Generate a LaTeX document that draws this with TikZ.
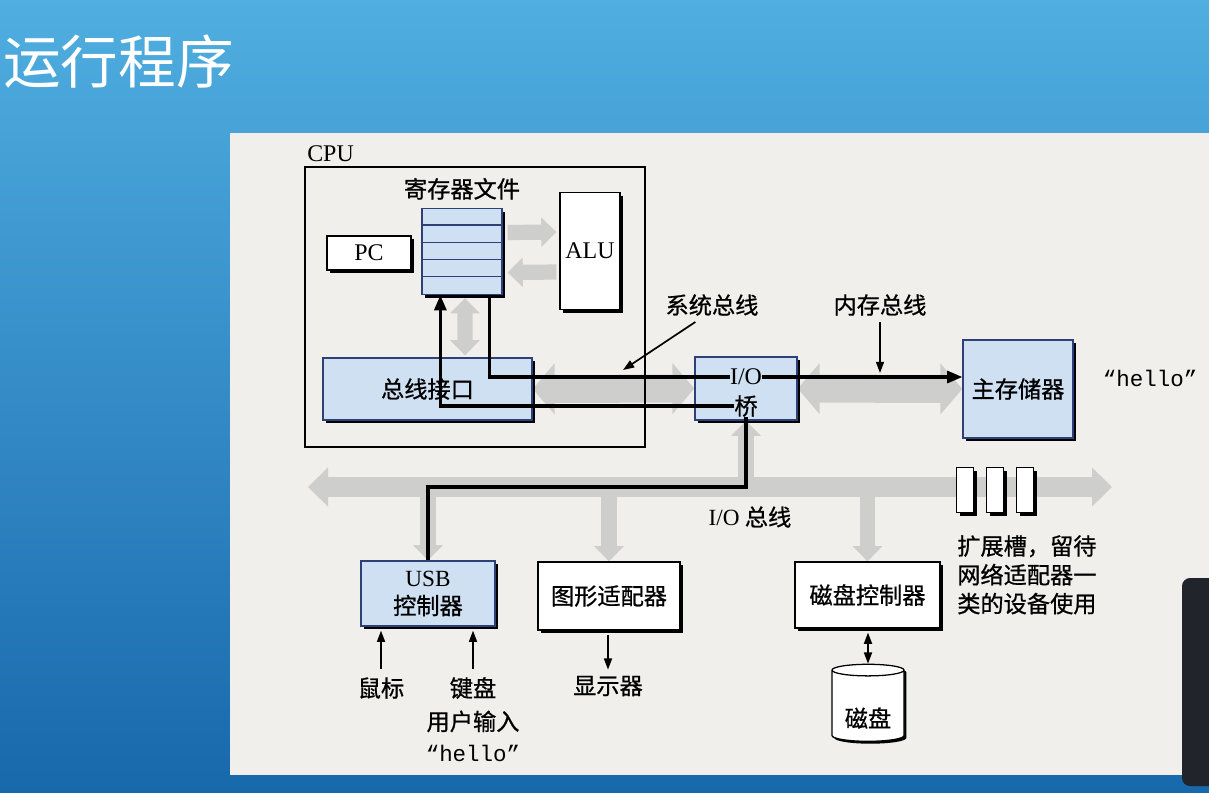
\documentclass[tikz,border=0pt]{standalone}
\usepackage{fontspec}
\setmainfont{Liberation Serif}
\setmonofont{Liberation Mono}
\newfontfamily\cjk[FakeBold=0.8]{Noto Sans CJK SC}
\newfontfamily\titlefont{Noto Sans CJK SC}
\usetikzlibrary{arrows.meta,positioning,calc,shadows,shapes.geometric}
\definecolor{slidetop}{RGB}{80,174,224}
\definecolor{slidebot}{RGB}{24,104,172}
\definecolor{paper}{RGB}{240,239,236}
\definecolor{boxblue}{RGB}{206,224,242}
\definecolor{edgeblue}{RGB}{45,65,120}
\definecolor{busgray}{RGB}{206,206,204}
\definecolor{widget}{RGB}{33,37,43}
\pgfdeclarelayer{bg}
\pgfdeclarelayer{mid}
\pgfsetlayers{bg,mid,main}

\begin{document}
\begin{tikzpicture}[x=0.025cm,y=-0.025cm,
  box/.style={draw=black,line width=0.9pt,fill=white,inner sep=0pt,
    drop shadow={shadow xshift=0.08cm,shadow yshift=-0.08cm,fill=black,opacity=1},
    font=\cjk\fontsize{16.5}{20}\selectfont},
  bluebox/.style={box,fill=boxblue,draw=edgeblue},
  lbl/.style={inner sep=0pt,font=\cjk\fontsize{16.5}{20}\selectfont},
  latin/.style={inner sep=0pt,font=\fontsize{17}{20}\selectfont},
  wire/.style={line width=2.2pt,>={Triangle[length=0.38cm,width=0.3cm]}},
  note/.style={line width=1.2pt,>={Triangle[length=0.28cm,width=0.2cm]}},
  fatbus/.style={draw=busgray,line width=0.7cm,>={Triangle[length=0.55cm,width=1.25cm]}},
  iobus/.style={draw=busgray,line width=0.5cm,>={Triangle[length=0.5cm,width=0.95cm]}},
  fatthin/.style={draw=busgray,line width=0.38cm,>={Triangle[length=0.38cm,width=0.72cm]}}]
\useasboundingbox (0,0) rectangle (1209,792);
\begin{pgfonlayer}{bg}
\shade[top color=slidetop,bottom color=slidebot] (0,0) rectangle (1209,792);
\fill[paper] (230,133) rectangle (1209,775);
\fill[widget,rounded corners=0.2cm] (1182,578) rectangle (1230,786);
\end{pgfonlayer}
\node[anchor=west,inner sep=0pt,text=white,font=\titlefont\fontsize{41}{46}\selectfont] (title) at (3,62) {运行程序};

\node[latin,anchor=south west] (cpulbl) at (307,162) {CPU};
\node[draw,line width=1.8pt,minimum width=8.5cm,minimum height=7cm,inner sep=0pt] (cpu) at (475,307) {};
\node[bluebox,minimum width=2cm,minimum height=2.15cm] (reg) at (462,251.5) {};
\foreach \r in {1,...,4}
  \draw[edgeblue,line width=0.9pt] ($(reg.north west)+(0,17.2*\r)$) -- ($(reg.north east)+(0,17.2*\r)$);
\node[lbl,above=0.2cm of reg] (reglbl) {寄存器文件};
\node[box,font=\fontsize{17}{20}\selectfont,minimum width=2.1cm,minimum height=0.85cm] (pc) at (369,253) {PC};
\node[box,font=\fontsize{17}{20}\selectfont,minimum width=1.5cm,minimum height=2.925cm] (alu) at (590,251) {ALU};
\node[bluebox,minimum width=5.225cm,minimum height=1.55cm] (busif) at (427.5,389) {总线接口};
\node[bluebox,minimum width=2.55cm,minimum height=1.575cm] (bridge) at (746,388.5) {};
\node[latin] (iotxt) at (746,377) {I/O};
\node[lbl] (qiao) at (746,406) {桥};
\node[bluebox,minimum width=2.75cm,minimum height=2.45cm] (mem) at (1018,389) {主存储器};
\node[inner sep=0pt,font=\ttfamily\fontsize{16}{20}\selectfont] (hello) at (1150,378) {“hello”};
\node[lbl] (syslbl) at (712,305) {系统总线};
\node[lbl] (memlbl) at (880,305) {内存总线};
\coordinate (sysbuspt) at (623,370);
\coordinate (membuspt) at (880,373);
\coordinate (busL) at (308,487);
\coordinate (busR) at (1112,487);
\node[lbl] (iobuslbl) at (750,517) {{\rmfamily I/O} 总线};

\node[bluebox,align=center,minimum width=3.35cm,minimum height=1.625cm] (usb) at (428,593.5) {{\rmfamily USB}\\控制器};
\node[box,minimum width=3.55cm,minimum height=1.7cm] (gfx) at (609,596) {图形适配器};
\node[box,minimum width=3.625cm,minimum height=1.65cm] (dctl) at (867.5,595) {磁盘控制器};
\node[cylinder,shape border rotate=90,aspect=0.25,draw,line width=0.9pt,fill=white,
  drop shadow={shadow xshift=0.06cm,shadow yshift=-0.06cm,fill=black,opacity=1},
  minimum width=1.8cm,minimum height=1.925cm,inner sep=0pt,
  font=\cjk\fontsize{16.5}{20}\selectfont] (disk) at (868,706) {\phantom{磁盘}};
\node[lbl] (disklbl) at ($(disk.center)+(0,12)$) {磁盘};
\foreach \sx [count=\i] in {965,995,1025}
  \node[box,minimum width=0.425cm,minimum height=1.125cm] (slot\i) at (\sx,490) {};
\node[lbl,anchor=north west,align=left,font=\cjk\fontsize{16.5}{20.5}\selectfont] (slotlbl) at (957,535) {扩展槽，留待\\网络适配器一\\类的设备使用};

\node[lbl] (mouse) at (381,688) {鼠标};
\node[lbl] (kbd) at (473,688) {键盘};
\node[lbl,below=0.28cm of kbd] (input) {用户输入};
\node[inner sep=0pt,font=\ttfamily\fontsize{16}{20}\selectfont] (kbdhello) at (473,753) {“hello”};
\node[lbl] (disp) at (608,686) {显示器};

\begin{pgfonlayer}{mid}
\draw[fatthin,->] ($(reg.east)+(5,-19)$) -- ($(alu.west)+(-3,-19)$);
\draw[fatthin,->] ($(alu.west)+(-3,21)$) -- ($(reg.east)+(5,21)$);
\draw[fatthin,<->] ($(reg.south)+(3,3)$) -- ($(busif.north)+(37.5,-2)$);
\draw[fatbus,<->] (busif.east) -- (bridge.west);
\draw[fatbus,<->] (bridge.east) -- (mem.west);
\draw[iobus,<->] (busL) -- (busR);
\draw[fatthin,->] (bridge.south |- busL) -- (bridge.south);
\draw[fatthin,->] (usb.north |- busL) -- (usb.north);
\draw[fatthin,->] (gfx.north |- busL) -- (gfx.north);
\draw[fatthin,->] (dctl.north |- busL) -- (dctl.north);
\end{pgfonlayer}

\coordinate (busjoin) at (bridge.south |- busL);
\draw[wire] (usb.north) |- (busjoin) -- (qiao.south);
\draw[wire,->] (qiao.west) -| ($(reg.south west)+(19,0)$);
\draw[wire] ($(reg.south east)+(-13,0)$) |- (iotxt.west);
\draw[wire,->] (iotxt.east) -- (iotxt.east -| mem.west);
\draw[note,->] ($(syslbl.south west)+(30,6)$) -- (sysbuspt);
\draw[note,->] ($(memlbl.south)+(0,6)$) -- (membuspt);
\draw[note,->,shorten <=0.2cm,shorten >=0.1cm] (mouse.north) -- (mouse.north |- usb.south);
\draw[note,->,shorten <=0.2cm,shorten >=0.1cm] (kbd.north) -- (kbd.north |- usb.south);
\draw[note,->,shorten <=0.1cm,shorten >=0.15cm] (gfx.south -| disp) -- (disp.north);
\draw[note,<->,shorten <=0.1cm] (dctl.south -| disk.north) -- (disk.north);
\end{tikzpicture}
\end{document}
